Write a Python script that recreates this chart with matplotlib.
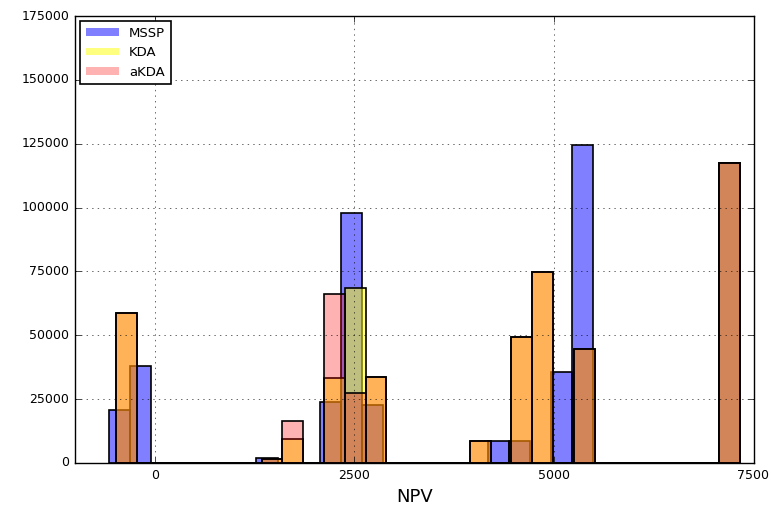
import numpy as np
import matplotlib
matplotlib.use("Agg")
import matplotlib.pyplot as plt
from matplotlib.patches import Patch

plt.style.use("classic")
plt.rcParams['font.family'] = ['DejaVu Sans']

# Data: histogram counts per bin (30 bins over each series' NPV range)
series_names = ["MSSP", "KDA", "aKDA"]
n_bins = 30
mssp_range = (-571, 7334)
kda_range = (-487, 7334)
akda_range = (-487, 7334)

mssp_counts = [20750, 38100, 0, 0, 0, 0, 0, 1800, 0, 0,
               23800, 97800, 22700, 0, 0, 0, 0, 0, 8600, 8600,
               0, 35600, 124500, 0, 0, 0, 0, 0, 0, 117300]
kda_counts = [58600, 0, 0, 0, 0, 0, 0, 1500, 9400, 0,
              33200, 68400, 33500, 0, 0, 0, 0, 8600, 0, 49400,
              74900, 0, 44600, 0, 0, 0, 0, 0, 0, 117300]
akda_counts = [58600, 0, 0, 0, 0, 0, 0, 1500, 16600, 0,
               66200, 27300, 33500, 0, 0, 0, 0, 8600, 0, 49400,
               74900, 0, 44600, 0, 0, 0, 0, 0, 0, 117300]

x_ticks = [0, 2500, 5000, 7500]
y_ticks = [0, 25000, 50000, 75000, 100000, 125000, 150000, 175000]

fig = plt.figure(figsize=(7.72, 5.13), dpi=100, facecolor="white")
ax = fig.add_axes([75/772, 1-463/513, (753.5-75)/772, (463-16)/513])
ax.set_facecolor("white")

styles = [((0, 0, 1), 0.5), ((1, 1, 0), 0.5), ((1, 0, 0), 0.3)]
data = [(mssp_counts, mssp_range), (kda_counts, kda_range), (akda_counts, akda_range)]
for (counts, rng), (col, a) in zip(data, styles):
    edges = np.linspace(rng[0], rng[1], n_bins + 1)
    centers = (edges[:-1] + edges[1:]) / 2
    ax.hist(centers, bins=edges, weights=counts,
            facecolor=(col[0], col[1], col[2], a), edgecolor="k", linewidth=1.2)

ax.set_xlim(-1000, 7500)
ax.set_ylim(0, 175000)
ax.set_xticks(x_ticks)
ax.set_yticks(y_ticks)
ax.tick_params(labelsize=9, direction="in", top=True, right=True, length=4)
ax.grid(True, linestyle=":", color="k", linewidth=0.6, alpha=0.7)
ax.set_xlabel("NPV", fontsize=13)

handles = [Patch(facecolor=(c[0], c[1], c[2], a), edgecolor="none") for c, a in styles]
leg = ax.legend(handles, series_names, loc="upper left", fontsize=9.5,
                fancybox=False, frameon=True, borderaxespad=0.4,
                handlelength=2.5, handleheight=0.5)
leg.get_frame().set_edgecolor("k")
leg.get_frame().set_linewidth(1.2)

fig.savefig("out.png", dpi=100, facecolor="white")
